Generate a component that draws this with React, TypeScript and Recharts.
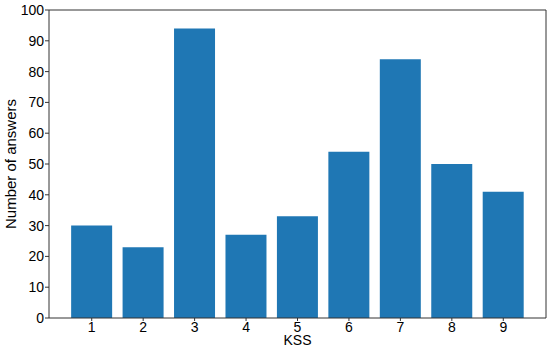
import React from 'react';
import { BarChart, Bar, XAxis, YAxis } from 'recharts';

const categories = ['1', '2', '3', '4', '5', '6', '7', '8', '9'];
const answers = [30, 23, 94, 27, 33, 54, 84, 50, 41];
const yTicks = [0, 10, 20, 30, 40, 50, 60, 70, 80, 90, 100];

const data = categories.map((kss, i) => ({ kss, answers: answers[i] }));

const font = 'Liberation Sans, Arial, sans-serif';
const axisColor = '#333';

const XTick = (props: any) => (
  <text x={props.x} y={props.y} dy="0.72em" textAnchor="middle" fontSize={14} fontFamily={font} fill="#000">
    {props.payload.value}
  </text>
);

const YTick = (props: any) => (
  <text x={props.x} y={props.y} dy="0.36em" textAnchor="end" fontSize={14} fontFamily={font} fill="#000">
    {props.payload.value}
  </text>
);

const App: React.FC = () => {
  return (
    <div style={{ position: 'absolute', left: 0, top: 0, background: '#fff' }}>
      <BarChart
        width={550}
        height={355}
        data={data}
        margin={{ top: 9, right: 3, left: 0, bottom: 0 }}
        barCategoryGap="10%"
      >
        <XAxis
          dataKey="kss"
          height={37}
          padding={{ left: 17, right: 17 }}
          stroke={axisColor}
          tickSize={3}
          tickMargin={1}
          tick={<XTick />}
          label={{ value: 'KSS', position: 'insideBottom', offset: 10, fill: '#000', fontSize: 14, fontFamily: font }}
        />
        <XAxis
          xAxisId="top"
          orientation="top"
          dataKey="kss"
          height={1}
          padding={{ left: 17, right: 17 }}
          tick={false}
          tickLine={false}
          stroke={axisColor}
        />
        <YAxis
          width={49}
          domain={[0, 100]}
          ticks={yTicks}
          interval={0}
          stroke={axisColor}
          tickSize={4}
          tickMargin={1}
          tick={<YTick />}
          label={{ value: 'Number of answers', angle: -90, position: 'center', dx: -14, fill: '#000', fontSize: 15, fontFamily: font }}
        />
        <YAxis
          yAxisId="right"
          orientation="right"
          width={1}
          domain={[0, 100]}
          tick={false}
          tickLine={false}
          stroke={axisColor}
        />
        <Bar dataKey="answers" fill="#1f77b4" isAnimationActive={false} />
      </BarChart>
    </div>
  );
};

export default App;
